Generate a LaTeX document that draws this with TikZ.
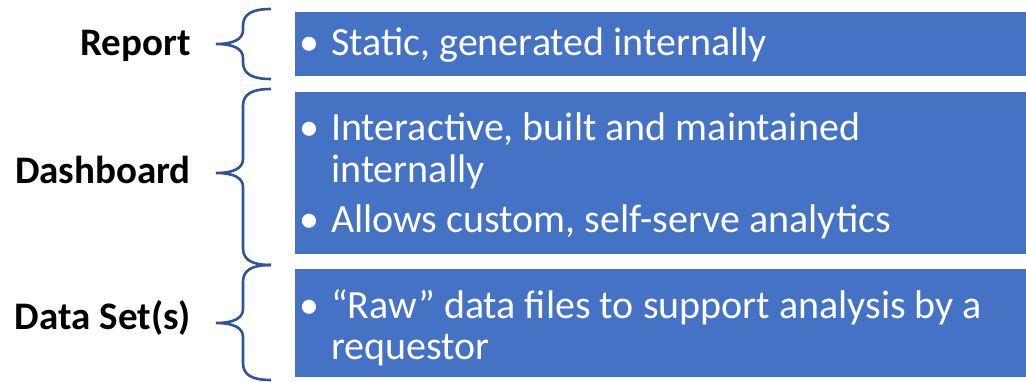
\documentclass[tikz,border=0pt]{standalone}
\usepackage{fontspec}
\setmainfont{Carlito}
\definecolor{boxblue}{HTML}{4472C4}
\definecolor{bracecol}{HTML}{2F5597}

% curly brace opening to the right: #1 top, #2 tip, #3 bottom (y grows downward)
\newcommand\leftbrace[3]{%
  \draw[bracestroke] (271,#1) .. controls (252,#1) and (243,#1+5) .. (243,#1+17)
    -- (243,#2-14) .. controls (243,#2-5) and (234,#2) .. (216,#2)
    .. controls (234,#2) and (243,#2+5) .. (243,#2+14)
    -- (243,#3-17) .. controls (243,#3-5) and (252,#3) .. (271,#3);}

\begin{document}
\begin{tikzpicture}[x=1pt,y=-1pt,
  panel/.style={fill=boxblue, draw=white, line width=0.6pt, anchor=north west,
    minimum width=732pt, inner sep=0pt},
  bracestroke/.style={draw=bracecol, line width=2.6pt},
  label/.style={anchor=base east, font=\fontsize{39}{45}\bfseries\selectfont, text=black, inner sep=0pt},
  item/.style={anchor=base west, font=\fontsize{40}{46}\selectfont, text=white, inner sep=0pt},
  dot/.style={anchor=base, font=\fontsize{40}{46}\selectfont, text=white, inner sep=0pt}]
\useasboundingbox (0,0) rectangle (1026,381);

% blue panels
\node[panel, minimum height=65pt] (pr) at (294,11) {};
\node[panel, minimum height=163pt] (pd) at (294,91) {};
\node[panel, minimum height=109pt] (ps) at (294,268) {};

% braces
\leftbrace{9}{44}{79}
\leftbrace{89}{173}{265}
\leftbrace{265}{323}{380}

% category labels
\node[label] (lr) at (191,55) {Report};
\node[label] (ld) at (191,183) {Dashboard};
\node[label] (ls) at (191,329) {Data Set(s)};

% bullets
\node[dot] (b1) at (309,55) {•};
\node[dot] (b2) at (309,140) {•};
\node[dot] (b3) at (309,232) {•};
\node[dot] (b4) at (309,318) {•};

% panel texts, one node per line
\node[item] (t1) at (331,55) {Static, generated internally};
\node[item] (t2a) at (331,140) {Interactive, built and maintained};
\node[item] (t2b) at (331,182) {internally};
\node[item] (t3) at (331,232) {Allows custom, self-serve analytics};
\node[item] (t4a) at (331,318) {“Raw” data files to support analysis by a};
\node[item] (t4b) at (331,359) {requestor};
\end{tikzpicture}
\end{document}
